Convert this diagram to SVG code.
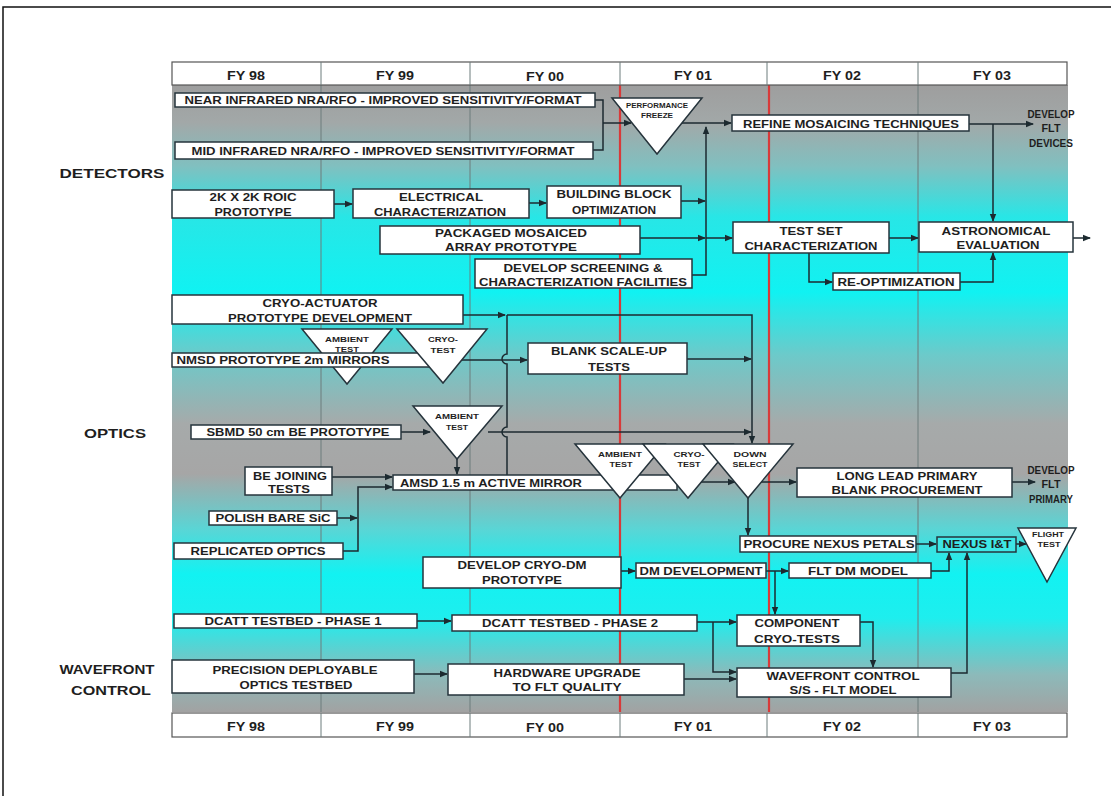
<svg xmlns="http://www.w3.org/2000/svg" width="1111" height="796" viewBox="0 0 1111 796">
<style>
text{font-family:"Liberation Sans",Arial,sans-serif;font-weight:bold;fill:#1e1e1e;text-anchor:middle}
.t{font-size:11.5px}
.s{font-size:7.5px}
.h{font-size:12px}
.sec{font-size:13px}
.box{fill:#fff;stroke:#26343c;stroke-width:1.5}
.tri{fill:#fff;stroke:#26343c;stroke-width:1.5;stroke-linejoin:miter}
.hdr{fill:#fff;stroke:#555;stroke-width:1.2}
.div{stroke:#6c7c7c;stroke-width:1}
.red{stroke:#d83a3a;stroke-width:2.2}
.c{fill:none;stroke:#1c2a30;stroke-width:1.5}
.ca{fill:none;stroke:#1c2a30;stroke-width:1.5;marker-end:url(#ah)}
</style>
<defs>
<marker id="ah" markerWidth="8" markerHeight="8" refX="7" refY="4" orient="auto" markerUnits="userSpaceOnUse">
<path d="M0,0.8 L8,4 L0,7.2z" fill="#1c2a30"/>
</marker>
<linearGradient id="bg" gradientUnits="userSpaceOnUse" x1="0" y1="85" x2="0" y2="712">
<stop offset="0" stop-color="#9e9e9e"/>
<stop offset="0.06" stop-color="#a2a8a8"/>
<stop offset="0.13" stop-color="#80c0c0"/>
<stop offset="0.21" stop-color="#28e6e6"/>
<stop offset="0.33" stop-color="#10f2f2"/>
<stop offset="0.43" stop-color="#6ccaca"/>
<stop offset="0.54" stop-color="#a6aaaa"/>
<stop offset="0.62" stop-color="#a6a6a6"/>
<stop offset="0.71" stop-color="#58d6d6"/>
<stop offset="0.78" stop-color="#12f2f2"/>
<stop offset="0.85" stop-color="#1eeeee"/>
<stop offset="0.94" stop-color="#8cbaba"/>
<stop offset="1" stop-color="#a2a2a2"/>
</linearGradient>
</defs>

<rect x="0" y="0" width="1111" height="796" fill="#fff"/>
<path d="M3,796 V7 H1111" fill="none" stroke="#111" stroke-width="1.5"/>

<g id="chart-background">
<rect x="172" y="85" width="896" height="627" fill="url(#bg)"/>
<line class="div" x1="321" y1="85" x2="321" y2="712"/>
<line class="div" x1="470" y1="85" x2="470" y2="712"/>
<line class="div" x1="918" y1="85" x2="918" y2="712"/>
<line class="red" x1="620" y1="85" x2="620" y2="712"/>
<line class="red" x1="769" y1="85" x2="769" y2="712"/>
</g>

<g id="header">
<rect class="hdr" x="172" y="62" width="895" height="23"/>
<line class="div" x1="321" y1="62" x2="321" y2="85"/>
<line class="div" x1="470" y1="62" x2="470" y2="85"/>
<line class="div" x1="620" y1="62" x2="620" y2="85"/>
<line class="div" x1="767" y1="62" x2="767" y2="85"/>
<line class="div" x1="918" y1="62" x2="918" y2="85"/>
<text class="h" x="246" y="80" textLength="38" lengthAdjust="spacingAndGlyphs">FY 98</text>
<text class="h" x="395" y="80" textLength="38" lengthAdjust="spacingAndGlyphs">FY 99</text>
<text class="h" x="545" y="81" textLength="38" lengthAdjust="spacingAndGlyphs">FY 00</text>
<text class="h" x="693" y="80" textLength="38" lengthAdjust="spacingAndGlyphs">FY 01</text>
<text class="h" x="842" y="80" textLength="38" lengthAdjust="spacingAndGlyphs">FY 02</text>
<text class="h" x="992" y="80" textLength="38" lengthAdjust="spacingAndGlyphs">FY 03</text>
</g>

<g id="footer">
<rect class="hdr" x="172" y="713" width="895" height="24"/>
<line class="div" x1="321" y1="713" x2="321" y2="737"/>
<line class="div" x1="470" y1="713" x2="470" y2="737"/>
<line class="div" x1="620" y1="713" x2="620" y2="737"/>
<line class="div" x1="767" y1="713" x2="767" y2="737"/>
<line class="div" x1="918" y1="713" x2="918" y2="737"/>
<text class="h" x="246" y="731" textLength="38" lengthAdjust="spacingAndGlyphs">FY 98</text>
<text class="h" x="395" y="731" textLength="38" lengthAdjust="spacingAndGlyphs">FY 99</text>
<text class="h" x="545" y="732" textLength="38" lengthAdjust="spacingAndGlyphs">FY 00</text>
<text class="h" x="693" y="731" textLength="38" lengthAdjust="spacingAndGlyphs">FY 01</text>
<text class="h" x="842" y="731" textLength="38" lengthAdjust="spacingAndGlyphs">FY 02</text>
<text class="h" x="992" y="731" textLength="38" lengthAdjust="spacingAndGlyphs">FY 03</text>
</g>

<g id="section-labels">
<text class="sec" x="112" y="178" textLength="105" lengthAdjust="spacingAndGlyphs">DETECTORS</text>
<text class="sec" x="115" y="438" textLength="62" lengthAdjust="spacingAndGlyphs">OPTICS</text>
<text class="sec" x="107" y="674" textLength="95" lengthAdjust="spacingAndGlyphs">WAVEFRONT</text>
<text class="sec" x="111" y="695" textLength="80" lengthAdjust="spacingAndGlyphs">CONTROL</text>
</g>

<g id="connectors">
<!-- detectors -->
<path class="c" d="M595,100 H603 V150 H593"/>
<path class="ca" d="M603,123 H631"/>
<path class="ca" d="M682,123 H731"/>
<path class="ca" d="M692,275 H706 V127"/>
<path class="ca" d="M681,201 H705"/>
<path class="ca" d="M640,238 H705"/>
<path class="ca" d="M706,238 H732"/>
<path class="ca" d="M969,124 H1033"/>
<path class="ca" d="M993,124 V221"/>
<path class="ca" d="M889,238 H918"/>
<path class="ca" d="M809,253 V282 H832"/>
<path class="ca" d="M960,282 H993 V253"/>
<path class="ca" d="M1073,238 H1090"/>
<path class="ca" d="M334,204 H352"/>
<path class="ca" d="M529,203 H546"/>
<!-- optics -->
<path class="ca" d="M463,315 H505"/>
<path class="ca" d="M507,315 H752 V443"/>
<path class="c" d="M507,315 V354 A5,5 0 0 0 507,364 V427 A5,5 0 0 0 507,437 V475"/>
<path class="ca" d="M430,360 H527"/>
<path class="ca" d="M687,359 H751"/>
<path class="ca" d="M401,432 H430"/>
<path class="ca" d="M488,432 H751"/>
<path class="ca" d="M457,459 V474"/>
<path class="ca" d="M332,477 H392"/>
<path class="ca" d="M337,518 H357"/>
<path class="ca" d="M343,551 H358 V487 H392"/>
<path class="ca" d="M677,482 H735"/>
<path class="ca" d="M761,482 H796"/>
<path class="ca" d="M748,498 V535"/>
<path class="ca" d="M1012,482 H1035"/>
<path class="ca" d="M916,544 H936"/>
<path class="ca" d="M1016,544 H1026"/>
<!-- wavefront -->
<path class="ca" d="M621,571 H635"/>
<path class="ca" d="M766,571 H788"/>
<path class="ca" d="M775,571 V614"/>
<path class="ca" d="M931,571 H949 V553"/>
<path class="ca" d="M417,621 H451"/>
<path class="ca" d="M697,622 H736"/>
<path class="ca" d="M713,622 V672 H736"/>
<path class="ca" d="M860,622 H873 V667"/>
<path class="ca" d="M414,674 H447"/>
<path class="ca" d="M684,679 H736"/>
<path class="ca" d="M951,673 H967 V553"/>
</g>

<g id="near-infrared"><rect class="box" x="175" y="93" width="420" height="14"/>
<text class="t" x="383" y="104" textLength="397" lengthAdjust="spacingAndGlyphs">NEAR INFRARED NRA/RFO - IMPROVED SENSITIVITY/FORMAT</text></g>
<g id="mid-infrared"><rect class="box" x="175" y="142" width="418" height="17"/>
<text class="t" x="383" y="155" textLength="383" lengthAdjust="spacingAndGlyphs">MID INFRARED NRA/RFO - IMPROVED SENSITIVITY/FORMAT</text></g>
<g id="performance-freeze"><polygon class="tri" points="612,98 702,98 657,154"/>
<text class="s" x="657" y="108" textLength="62" lengthAdjust="spacingAndGlyphs">PERFORMANCE</text>
<text class="s" x="657" y="118" textLength="32" lengthAdjust="spacingAndGlyphs">FREEZE</text></g>
<g id="refine-mosaicing"><rect class="box" x="732" y="115" width="237" height="16"/>
<text class="t" x="851" y="128" textLength="216" lengthAdjust="spacingAndGlyphs">REFINE MOSAICING TECHNIQUES</text></g>
<g id="develop-flt-devices">
<text class="t" x="1051" y="118" textLength="47" lengthAdjust="spacingAndGlyphs">DEVELOP</text>
<text class="t" x="1051" y="132" textLength="19" lengthAdjust="spacingAndGlyphs">FLT</text>
<text class="t" x="1051" y="147" textLength="44" lengthAdjust="spacingAndGlyphs">DEVICES</text></g>
<g id="roic"><rect class="box" x="172" y="190" width="162" height="28"/>
<text class="t" x="253" y="201" textLength="87" lengthAdjust="spacingAndGlyphs">2K X 2K ROIC</text>
<text class="t" x="253" y="216" textLength="77" lengthAdjust="spacingAndGlyphs">PROTOTYPE</text></g>
<g id="electrical"><rect class="box" x="353" y="189" width="176" height="29"/>
<text class="t" x="441" y="201" textLength="84" lengthAdjust="spacingAndGlyphs">ELECTRICAL</text>
<text class="t" x="440" y="216" textLength="132" lengthAdjust="spacingAndGlyphs">CHARACTERIZATION</text></g>
<g id="building-block"><rect class="box" x="547" y="186" width="134" height="32"/>
<text class="t" x="614" y="198" textLength="115" lengthAdjust="spacingAndGlyphs">BUILDING BLOCK</text>
<text class="t" x="614" y="214" textLength="84" lengthAdjust="spacingAndGlyphs">OPTIMIZATION</text></g>
<g id="packaged"><rect class="box" x="380" y="226" width="260" height="28"/>
<text class="t" x="511" y="237" textLength="152" lengthAdjust="spacingAndGlyphs">PACKAGED MOSAICED</text>
<text class="t" x="511" y="251" textLength="132" lengthAdjust="spacingAndGlyphs">ARRAY PROTOTYPE</text></g>
<g id="screening"><rect class="box" x="475" y="259" width="217" height="29"/>
<text class="t" x="583" y="272" textLength="159" lengthAdjust="spacingAndGlyphs">DEVELOP SCREENING &amp;</text>
<text class="t" x="583" y="286" textLength="208" lengthAdjust="spacingAndGlyphs">CHARACTERIZATION FACILITIES</text></g>
<g id="test-set"><rect class="box" x="733" y="222" width="156" height="31"/>
<text class="t" x="811" y="235" textLength="63" lengthAdjust="spacingAndGlyphs">TEST SET</text>
<text class="t" x="811" y="250" textLength="133" lengthAdjust="spacingAndGlyphs">CHARACTERIZATION</text></g>
<g id="astronomical"><rect class="box" x="919" y="222" width="154" height="30"/>
<text class="t" x="996" y="235" textLength="109" lengthAdjust="spacingAndGlyphs">ASTRONOMICAL</text>
<text class="t" x="998" y="249" textLength="83" lengthAdjust="spacingAndGlyphs">EVALUATION</text></g>
<g id="re-optimization"><rect class="box" x="833" y="273" width="127" height="17"/>
<text class="t" x="896" y="286" textLength="117" lengthAdjust="spacingAndGlyphs">RE-OPTIMIZATION</text></g>

<g id="cryo-actuator"><rect class="box" x="172" y="295" width="291" height="29"/>
<text class="t" x="320" y="307" textLength="115" lengthAdjust="spacingAndGlyphs">CRYO-ACTUATOR</text>
<text class="t" x="320" y="322" textLength="184" lengthAdjust="spacingAndGlyphs">PROTOTYPE DEVELOPMENT</text></g>
<g id="ambient-test-1"><polygon class="tri" points="302,329 392,329 347,384"/>
<text class="s" x="347" y="342" textLength="44" lengthAdjust="spacingAndGlyphs">AMBIENT</text>
<text class="s" x="347" y="352" textLength="24" lengthAdjust="spacingAndGlyphs">TEST</text></g>
<g id="nmsd"><rect class="box" x="172" y="353" width="258" height="14"/>
<text class="t" x="283" y="364" textLength="213" lengthAdjust="spacingAndGlyphs">NMSD PROTOTYPE 2m MIRRORS</text></g>
<g id="cryo-test-1"><polygon class="tri" points="397,329 487,329 443,383"/>
<text class="s" x="443" y="342" textLength="30" lengthAdjust="spacingAndGlyphs">CRYO-</text>
<text class="s" x="443" y="353" textLength="25" lengthAdjust="spacingAndGlyphs">TEST</text></g>
<g id="blank-scale-up"><rect class="box" x="528" y="343" width="159" height="31"/>
<text class="t" x="609" y="355" textLength="116" lengthAdjust="spacingAndGlyphs">BLANK SCALE-UP</text>
<text class="t" x="609" y="371" textLength="42" lengthAdjust="spacingAndGlyphs">TESTS</text></g>
<g id="sbmd"><rect class="box" x="191" y="425" width="210" height="14"/>
<text class="t" x="298" y="436" textLength="183" lengthAdjust="spacingAndGlyphs">SBMD 50 cm BE PROTOTYPE</text></g>
<g id="ambient-test-2"><polygon class="tri" points="413,406 502,406 457,459"/>
<text class="s" x="457" y="419" textLength="44" lengthAdjust="spacingAndGlyphs">AMBIENT</text>
<text class="s" x="457" y="430" textLength="22" lengthAdjust="spacingAndGlyphs">TEST</text></g>
<g id="be-joining"><rect class="box" x="245" y="467" width="87" height="28"/>
<text class="t" x="290" y="480" textLength="74" lengthAdjust="spacingAndGlyphs">BE JOINING</text>
<text class="t" x="289" y="493" textLength="42" lengthAdjust="spacingAndGlyphs">TESTS</text></g>
<g id="amsd"><rect class="box" x="393" y="475" width="284" height="15"/>
<text class="t" x="491" y="487" textLength="182" lengthAdjust="spacingAndGlyphs">AMSD 1.5 m ACTIVE MIRROR</text></g>
<g id="polish"><rect class="box" x="209" y="511" width="128" height="14"/>
<text class="t" x="273" y="522" textLength="115" lengthAdjust="spacingAndGlyphs">POLISH BARE SiC</text></g>
<g id="replicated"><rect class="box" x="174" y="543" width="169" height="16"/>
<text class="t" x="258" y="555" textLength="135" lengthAdjust="spacingAndGlyphs">REPLICATED OPTICS</text></g>
<g id="ambient-test-3"><polygon class="tri" points="575,444 665,444 620,498"/>
<text class="s" x="620" y="457" textLength="44" lengthAdjust="spacingAndGlyphs">AMBIENT</text>
<text class="s" x="621" y="467" textLength="23" lengthAdjust="spacingAndGlyphs">TEST</text></g>
<g id="cryo-test-2"><polygon class="tri" points="643,444 733,444 688,498"/>
<text class="s" x="689" y="457" textLength="31" lengthAdjust="spacingAndGlyphs">CRYO-</text>
<text class="s" x="689" y="467" textLength="23" lengthAdjust="spacingAndGlyphs">TEST</text></g>
<g id="down-select"><polygon class="tri" points="703,444 793,444 748,498"/>
<text class="s" x="750" y="457" textLength="33" lengthAdjust="spacingAndGlyphs">DOWN</text>
<text class="s" x="750" y="467" textLength="35" lengthAdjust="spacingAndGlyphs">SELECT</text></g>
<g id="long-lead"><rect class="box" x="797" y="468" width="215" height="29"/>
<text class="t" x="907" y="480" textLength="141" lengthAdjust="spacingAndGlyphs">LONG LEAD PRIMARY</text>
<text class="t" x="907" y="494" textLength="151" lengthAdjust="spacingAndGlyphs">BLANK PROCUREMENT</text></g>
<g id="develop-flt-primary">
<text class="t" x="1051" y="474" textLength="47" lengthAdjust="spacingAndGlyphs">DEVELOP</text>
<text class="t" x="1051" y="488" textLength="19" lengthAdjust="spacingAndGlyphs">FLT</text>
<text class="t" x="1051" y="503" textLength="44" lengthAdjust="spacingAndGlyphs">PRIMARY</text></g>
<g id="procure-nexus"><rect class="box" x="740" y="536" width="176" height="16"/>
<text class="t" x="829" y="548" textLength="171" lengthAdjust="spacingAndGlyphs">PROCURE NEXUS PETALS</text></g>
<g id="nexus-it"><rect x="937" y="537" width="79" height="15" fill="#3ee6e6" stroke="#26343c" stroke-width="1.5"/>
<text class="t" x="977" y="548" textLength="69" lengthAdjust="spacingAndGlyphs">NEXUS I&amp;T</text></g>
<g id="flight-test"><polygon class="tri" points="1018,528 1076,528 1047,582"/>
<text class="s" x="1048" y="537" textLength="32" lengthAdjust="spacingAndGlyphs">FLIGHT</text>
<text class="s" x="1049" y="547" textLength="23" lengthAdjust="spacingAndGlyphs">TEST</text></g>

<g id="develop-cryo-dm"><rect class="box" x="423" y="557" width="198" height="31"/>
<text class="t" x="522" y="569" textLength="129" lengthAdjust="spacingAndGlyphs">DEVELOP CRYO-DM</text>
<text class="t" x="522" y="584" textLength="80" lengthAdjust="spacingAndGlyphs">PROTOTYPE</text></g>
<g id="dm-development"><rect class="box" x="636" y="563" width="130" height="15"/>
<text class="t" x="701" y="575" textLength="123" lengthAdjust="spacingAndGlyphs">DM DEVELOPMENT</text></g>
<g id="flt-dm-model"><rect class="box" x="789" y="563" width="142" height="15"/>
<text class="t" x="858" y="575" textLength="100" lengthAdjust="spacingAndGlyphs">FLT DM MODEL</text></g>
<g id="dcatt-1"><rect class="box" x="174" y="614" width="243" height="14"/>
<text class="t" x="293" y="625" textLength="177" lengthAdjust="spacingAndGlyphs">DCATT TESTBED - PHASE 1</text></g>
<g id="dcatt-2"><rect class="box" x="452" y="615" width="245" height="16"/>
<text class="t" x="570" y="627" textLength="176" lengthAdjust="spacingAndGlyphs">DCATT TESTBED - PHASE 2</text></g>
<g id="component-cryo"><rect class="box" x="737" y="615" width="123" height="31"/>
<text class="t" x="797" y="627" textLength="85" lengthAdjust="spacingAndGlyphs">COMPONENT</text>
<text class="t" x="797" y="643" textLength="86" lengthAdjust="spacingAndGlyphs">CRYO-TESTS</text></g>
<g id="precision"><rect class="box" x="172" y="660" width="242" height="33"/>
<text class="t" x="295" y="674" textLength="165" lengthAdjust="spacingAndGlyphs">PRECISION DEPLOYABLE</text>
<text class="t" x="296" y="689" textLength="113" lengthAdjust="spacingAndGlyphs">OPTICS TESTBED</text></g>
<g id="hardware-upgrade"><rect class="box" x="448" y="664" width="236" height="31"/>
<text class="t" x="567" y="677" textLength="147" lengthAdjust="spacingAndGlyphs">HARDWARE UPGRADE</text>
<text class="t" x="567" y="691" textLength="109" lengthAdjust="spacingAndGlyphs">TO FLT QUALITY</text></g>
<g id="wavefront-control"><rect class="box" x="737" y="668" width="214" height="29"/>
<text class="t" x="843" y="680" textLength="153" lengthAdjust="spacingAndGlyphs">WAVEFRONT CONTROL</text>
<text class="t" x="843" y="694" textLength="107" lengthAdjust="spacingAndGlyphs">S/S - FLT MODEL</text></g>
</svg>
